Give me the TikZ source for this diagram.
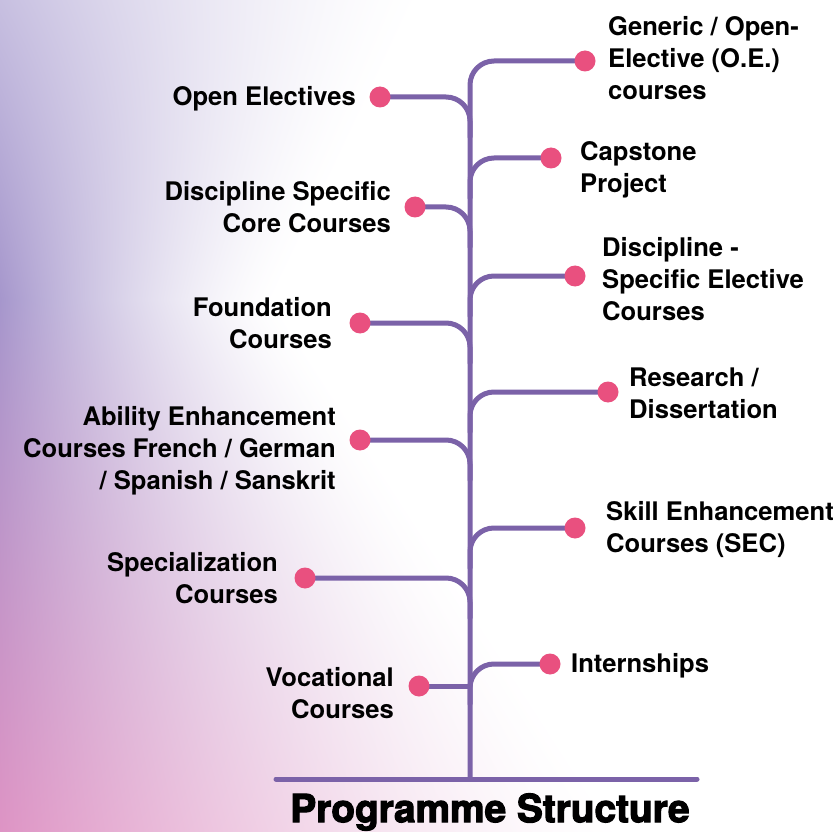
\documentclass[tikz,border=0pt]{standalone}
\usepackage{fontspec}
\setmainfont{TeX Gyre Heros}
\newfontfamily\titlefont{TeX Gyre Heros}[BoldFeatures={FakeBold=3}]
\definecolor{trunkc}{HTML}{7B62A8}
\definecolor{dotc}{HTML}{E9507F}
\pgfdeclarefunctionalshading{bgwash}{\pgfpoint{0bp}{0bp}}{\pgfpoint{100bp}{100bp}}{}{
  25 sub 50 div exch 25 sub 50 div
  1 index
  dup 0.64 lt {-0.65625 mul 0.75 add} {0.64 sub 0.5 mul 0.33 add} ifelse
  div 1 exch sub
  dup 0 lt {pop 0} if
  1.5 exp
  1 index
  dup 0.64 lt {-0.34375 mul 0.87 add} {0.64 sub 0.3611 mul 0.65 add} ifelse
  1 exch sub 1 index mul 1 exch sub
  2 index
  dup 0.64 lt {0.015625 mul 0.58 add} {0.64 sub 0.4444 mul 0.59 add} ifelse
  1 exch sub 2 index mul 1 exch sub
  3 index
  dup 0.64 lt {0.046875 mul 0.77 add} {0.64 sub 0.2222 mul 0.80 add} ifelse
  1 exch sub 3 index mul 1 exch sub
  5 -2 roll pop pop
}
\tikzset{
  branch/.style={draw=trunkc, line width=5pt, line cap=round, rounded corners=24pt},
  dot/.style={circle, fill=dotc, minimum size=21pt, inner sep=0pt},
  lbl/.style={inner sep=0pt, font=\bfseries\fontsize{25.6}{32}\selectfont, text=black},
  rlbl/.style={lbl, anchor=west, align=left},
  llbl/.style={lbl, anchor=east, align=right},
}
\begin{document}
\begin{tikzpicture}[x=1pt,y=-1pt]
\useasboundingbox (0,0) rectangle (839,832);
\shade[shading=bgwash] (0,0) rectangle (839,832);

% trunk base and junctions
\coordinate (tb) at (470,779);
\coordinate (bl) at (276,779);
\coordinate (br) at (697,779);
% right dot centres
\coordinate (r1) at (585,61);
\coordinate (r2) at (551,158);
\coordinate (r3) at (575,276);
\coordinate (r4) at (608,392);
\coordinate (r5) at (575,528);
\coordinate (r6) at (550,664);
% left dot centres
\coordinate (l1) at (380,97);
\coordinate (l2) at (415,207);
\coordinate (l3) at (360,323);
\coordinate (l4) at (360,440);
\coordinate (l5) at (305,578);
\coordinate (l6) at (419,686);
% junctions on the trunk
\coordinate (jr2) at (470,198);
\coordinate (jr3) at (470,316);
\coordinate (jr4) at (470,432);
\coordinate (jr5) at (470,568);
\coordinate (jr6) at (470,704);
\coordinate (jl1) at (470,137);
\coordinate (jl2) at (470,247);
\coordinate (jl3) at (470,363);
\coordinate (jl4) at (470,480);
\coordinate (jl5) at (470,618);

\draw[branch] (bl) -- (br);
\draw[branch] (tb) |- (r1);
\foreach \i in {2,...,6} \draw[branch] (jr\i) |- (r\i);
\foreach \i in {1,...,5} \draw[branch] (l\i) -| (jl\i);
\draw[branch] (l6) -- (l6 -| tb);

\foreach \i in {1,...,6} {
  \node[dot] (dr\i) at (r\i) {};
  \node[dot] (dl\i) at (l\i) {};
}

% right labels
\node[rlbl] (t1) at (608,58) {Generic / Open-\\Elective (O.E.)\\courses};
\node[rlbl] (t2) at (580,170) {Capstone\\Project};
\node[rlbl] (t3) at (602,279) {Discipline -\\Specific Elective\\Courses};
\node[rlbl] (t4) at (629,393) {Research /\\Dissertation};
\node[rlbl] (t5) at (606,530) {Skill Enhancement\\Courses (SEC)};
\node[rlbl] (t6) at (571,666) {Internships};
% left labels
\node[llbl] (s1) at (356,99) {Open Electives};
\node[llbl] (s2) at (391,207) {Discipline Specific\\Core Courses};
\node[llbl] (s3) at (332,323) {Foundation\\Courses};
\node[llbl] (s4) at (336,451) {Ability Enhancement\\Courses French / German\\/ Spanish / Sanskrit};
\node[llbl] (s5) at (278,578) {Specialization\\Courses};
\node[llbl] (s6) at (394,693) {Vocational\\Courses};

\node[inner sep=0pt, font=\titlefont\bfseries\fontsize{38.8}{40}\selectfont] (title) at (490,812) {Programme Structure};
\end{tikzpicture}
\end{document}
